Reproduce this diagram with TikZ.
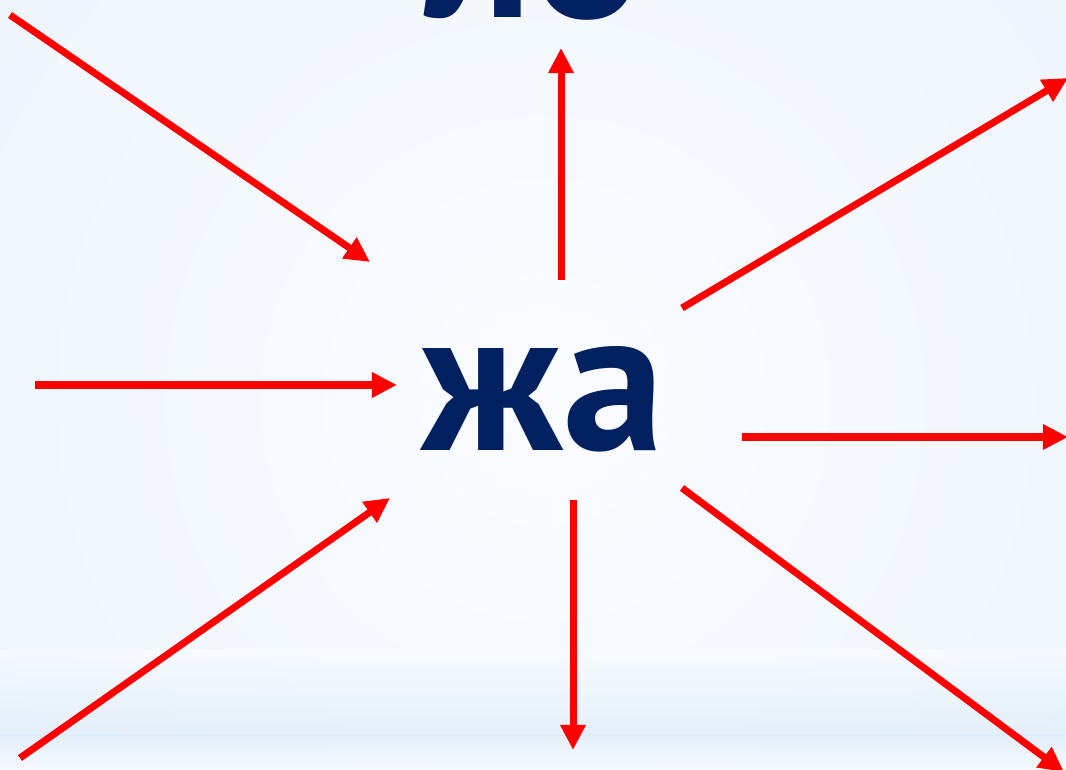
\documentclass[tikz,border=0pt]{standalone}
\usepackage{fontspec}
\newfontfamily\cyrfont{PT Sans}
\usetikzlibrary{arrows.meta}
\definecolor{syllable}{HTML}{002060}
\definecolor{backlight}{RGB}{250,252,255}
\definecolor{backedge}{RGB}{238,245,252}
\definecolor{backblue}{RGB}{218,234,248}

\begin{document}
\begin{tikzpicture}[
		x=0.01cm, y=-0.01cm,
		syl/.style={font=\cyrfont\bfseries\fontsize{58}{58}\selectfont, text=syllable, inner sep=0pt, anchor=base},
		arrow/.style={draw=red, line width=0.07cm, -{Triangle[length=0.25cm, width=0.24cm]}}
		]
		
		% Background
		\useasboundingbox (0,0) rectangle (1066,770);
		\clip (0,0) rectangle (1066,770);
		\shade[inner color=backlight, outer color=backedge] (545,400) circle (760);
		\shade[top color=backlight, bottom color=backblue, opacity=0.6] (0,650) rectangle (1066,735);
		\shade[top color=backblue, bottom color=backlight, opacity=0.6] (0,735) rectangle (1066,770);
		
		% Nodes
		\node (top) [syl] at (535,18) {ло};
		\node (centre) [syl] at (543,450) {жа};
		
		% Coordinates
		\coordinate (ul0) at (10,15);    \coordinate (ul1) at (370,262);
		\coordinate (up0) at (561,280);  \coordinate (up1) at (561,48);
		\coordinate (ur0) at (682,308);  \coordinate (ur1) at (1068,78);
		\coordinate (le0) at (35,385);   \coordinate (le1) at (397,385);
		\coordinate (ri0) at (742,437);  \coordinate (ri1) at (1068,437);
		\coordinate (dl0) at (20,758);   \coordinate (dl1) at (390,498);
		\coordinate (dn0) at (573,500);  \coordinate (dn1) at (573,750);
		\coordinate (dr0) at (682,488);  \coordinate (dr1) at (1064,772);
		
		% Arrows
		\draw [arrow] (ul0) -- (ul1);
		\draw [arrow] (up0) -- (up1);
		\draw [arrow] (ur0) -- (ur1);
		\draw [arrow] (le0) -- (le1);
		\draw [arrow] (ri0) -- (ri1);
		\draw [arrow] (dl0) -- (dl1);
		\draw [arrow] (dn0) -- (dn1);
		\draw [arrow] (dr0) -- (dr1);
		
	\end{tikzpicture}
\end{document}
